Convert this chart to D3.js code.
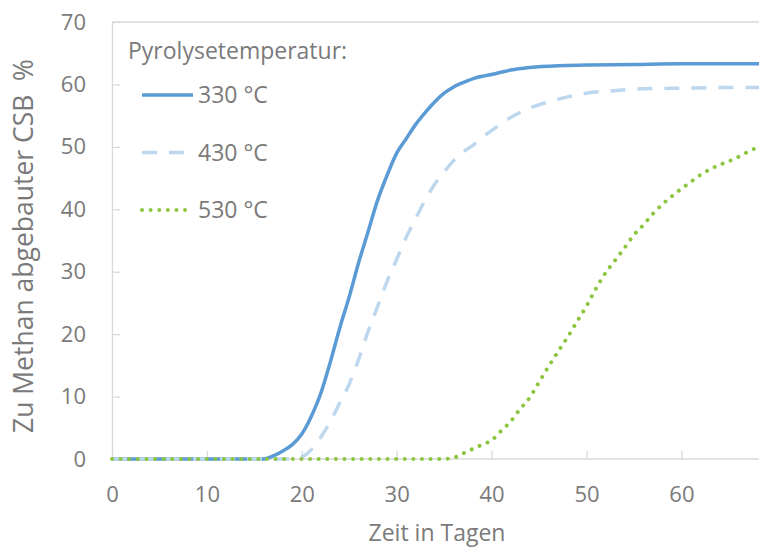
<!DOCTYPE html>
<html>
<head>
<meta charset="utf-8">
<script src="https://cdn.jsdelivr.net/npm/d3@7"></script>
<style>
  html, body { margin: 0; padding: 0; background: #fff; }
  svg text { font-family: "Open Sans", Lato, sans-serif; fill: #7a7a7a; white-space: pre; }
</style>
</head>
<body>
<div id="chart"></div>
<script>
////////////////////////////////////////////////////////////////////
//////////////////////////////  Data  ///////////////////////////////
const days330 = [0, 15, 16, 17, 18, 19, 20, 21, 22, 23, 24, 25, 26, 27, 28, 29, 30, 31, 32, 33, 34, 35, 36, 37, 38, 39, 40, 42, 44, 47, 50, 55, 60, 70];
const vals330 = [0, 0, 0, 0.5, 1.3, 2.3, 4, 6.8, 10.5, 15.5, 21, 26, 31.5, 36.5, 41.5, 45.5, 49, 51.3, 53.6, 55.5, 57.2, 58.6, 59.6, 60.3, 60.9, 61.3, 61.6, 62.3, 62.7, 63, 63.1, 63.2, 63.3, 63.3];

const days430 = [0, 19, 20, 21, 22, 23, 24, 25, 26, 27, 28, 29, 30, 31, 32, 33, 34, 35, 36, 37, 38, 39, 40, 42, 44, 46, 48, 50, 53, 56, 60, 64, 70];
const vals430 = [0, 0, 0.3, 1.5, 3.5, 6, 9, 12, 16, 20.5, 24.5, 28.5, 32, 35.5, 38.5, 41.5, 44, 46, 47.8, 49.2, 50.2, 51.5, 52.6, 54.7, 56.2, 57.2, 58, 58.6, 59, 59.3, 59.4, 59.5, 59.5];

const days530 = [0, 35, 36, 37, 38, 39, 40, 41, 42, 43, 44, 45, 46, 47, 48, 49, 50, 51, 52, 53, 54, 55, 56, 57, 58, 59, 60, 61, 62, 63, 64, 65, 66, 67, 68, 69, 70];
const vals530 = [0, 0, 0.2, 0.9, 1.6, 2.3, 3, 4.5, 6, 8, 9.8, 12.3, 14.8, 17.2, 19.5, 22, 24.5, 27.3, 29.8, 31.8, 33.8, 35.9, 37.5, 39.3, 40.8, 42.1, 43.3, 44.4, 45.5, 46.4, 47.1, 47.7, 48.4, 49.2, 49.9, 50.4, 50.8];

const seriesNames = ["330 °C", "430 °C", "530 °C"];
const xTicks = [0, 10, 20, 30, 40, 50, 60];
const yTicks = [0, 10, 20, 30, 40, 50, 60, 70];

////////////////////////////////////////////////////////////////////
//////////////////////////////  Init  ///////////////////////////////
const width = 759;
const height = 549;
const margin = { top: 22, left: 112, bottom: 90 };

const svg = d3.select("#chart").append("svg")
    .attr("width", width)
    .attr("height", height);

// scales (x runs past the right edge, the picture is cut there)
const xScale = d3.scaleLinear().domain([0, 70]).range([margin.left, margin.left + 70 * 9.49]);
const yScale = d3.scaleLinear().domain([0, 70]).range([height - margin.bottom, margin.top]);

const series = [
    { name: seriesNames[0], values: days330.map((d, i) => ({ x: d, y: vals330[i] })),
      color: "#5b9bd5", width: 3.5, dash: null, cap: "butt" },
    { name: seriesNames[1], values: days430.map((d, i) => ({ x: d, y: vals430[i] })),
      color: "#bdd7ee", width: 3.5, dash: "15 12", cap: "butt" },
    { name: seriesNames[2], values: days530.map((d, i) => ({ x: d, y: vals530[i] })),
      color: "#8cc63f", width: 4, dash: "0.01 8.6", cap: "round" }
];

// top border of plot area
svg.append("line")
    .attr("x1", margin.left).attr("x2", width)
    .attr("y1", yScale(70)).attr("y2", yScale(70))
    .attr("stroke", "#d9d9d9").attr("stroke-width", 1.3);

// axes
const xAxis = d3.axisBottom(xScale).tickValues(xTicks).tickSizeInner(-8).tickSizeOuter(0).tickPadding(27);
const yAxis = d3.axisLeft(yScale).tickValues(yTicks).tickSizeInner(-8).tickSizeOuter(0).tickPadding(26);

const gx = svg.append("g")
    .attr("transform", `translate(0,${yScale(0)})`)
    .call(xAxis);
gx.select(".domain").attr("d", `M${margin.left},0H${width}`);

const gy = svg.append("g")
    .attr("transform", `translate(${margin.left},0)`)
    .call(yAxis);

svg.selectAll(".domain, .tick line").attr("stroke", "#d9d9d9").attr("stroke-width", 1.3);
svg.selectAll(".tick text")
    .attr("fill", "#7a7a7a")
    .style("font-family", "\"Open Sans\", Lato, sans-serif")
    .style("font-size", "22px");

// axis titles
svg.append("text")
    .attr("x", 437)
    .attr("y", 541)
    .attr("text-anchor", "middle")
    .style("font-size", "23px")
    .text("Zeit in Tagen");

svg.append("text")
    .attr("transform", "translate(33,246) rotate(-90)")
    .attr("text-anchor", "middle")
    .style("font-size", "26.5px")
    .text("Zu Methan abgebauter CSB  %");

// lines
const line = d3.line()
    .x((d) => xScale(d.x))
    .y((d) => yScale(d.y))
    .curve(d3.curveMonotoneX);

svg.selectAll(".series")
    .data(series)
    .enter().append("path")
    .attr("class", "series")
    .attr("d", (d) => line(d.values))
    .attr("fill", "none")
    .attr("stroke", (d) => d.color)
    .attr("stroke-width", (d) => d.width)
    .attr("stroke-dasharray", (d) => d.dash)
    .attr("stroke-linecap", (d) => d.cap);

// legend
const legend = svg.append("g");
legend.append("text")
    .attr("x", 128)
    .attr("y", 59)
    .style("font-size", "23px")
    .text("Pyrolysetemperatur:");

const entries = legend.selectAll(".entry")
    .data(series)
    .enter().append("g")
    .attr("class", "entry")
    .attr("transform", (d, i) => `translate(0,${95 + i * 57.5})`);

entries.append("line")
    .attr("x1", 142).attr("x2", 193)
    .attr("stroke", (d) => d.color)
    .attr("stroke-width", (d) => d.width)
    .attr("stroke-dasharray", (d) => d.dash)
    .attr("stroke-linecap", (d) => d.cap);

entries.append("text")
    .attr("x", 198)
    .attr("y", 8)
    .style("font-size", "23px")
    .text((d) => d.name);
</script>
</body>
</html>
